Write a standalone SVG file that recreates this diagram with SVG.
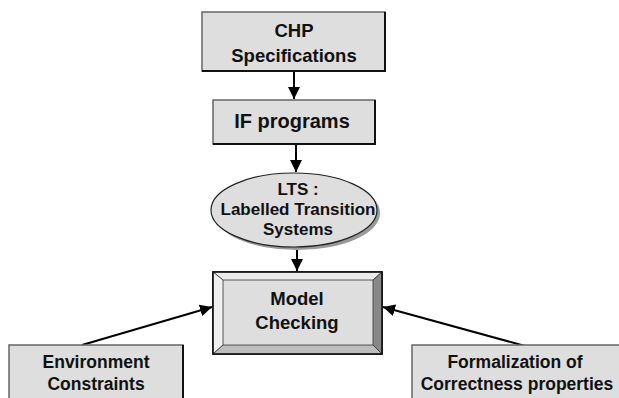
<svg xmlns="http://www.w3.org/2000/svg" width="619" height="398" viewBox="0 0 619 398">
<defs>
<marker id="ah" viewBox="0 0 10 10" refX="10" refY="5" markerWidth="6" markerHeight="6" orient="auto" markerUnits="strokeWidth">
<path d="M0,0 L10,5 L0,10 z" fill="#000"/>
</marker>
</defs>
<style>
.box{fill:#dedede;stroke:#666;stroke-width:1.5}
.sh{fill:none;stroke:#111;stroke-width:2}
.t{font-family:"Liberation Sans",Arial,sans-serif;font-weight:bold;fill:#111;text-anchor:middle}
.c{stroke:#000;stroke-width:2;fill:none;marker-end:url(#ah)}
</style>
<rect width="619" height="398" fill="#fff"/>
<g id="connectors">
<line class="c" x1="294" y1="71" x2="294" y2="99"/>
<line class="c" x1="296" y1="145" x2="296" y2="172"/>
<line class="c" x1="297" y1="247" x2="297" y2="271"/>
<line class="c" x1="82" y1="345" x2="212" y2="307"/>
<line class="c" x1="525" y1="346" x2="383" y2="307"/>
</g>
<g id="chp">
<rect class="box" x="202" y="12" width="183" height="59"/>
<path class="sh" d="M385,12 V71 H202"/>
<text class="t" x="294" y="37" font-size="18.5">CHP</text>
<text class="t" x="294" y="62" font-size="18.5">Specifications</text>
</g>
<g id="if">
<rect class="box" x="213" y="100" width="162" height="44"/>
<path class="sh" d="M375,100 V144 H213" stroke="#555"/>
<text class="t" x="292" y="128" font-size="20">IF programs</text>
</g>
<g id="lts">
<ellipse cx="297" cy="213" rx="83" ry="37" fill="#999"/>
<ellipse cx="294" cy="210" rx="83" ry="37" fill="#dedede" stroke="#222" stroke-width="1.2"/>
<text class="t" x="298" y="195" font-size="17">LTS :</text>
<text class="t" x="298" y="215" font-size="17">Labelled Transition</text>
<text class="t" x="298" y="235" font-size="17">Systems</text>
</g>
<g id="mc">
<rect x="213" y="272" width="169" height="82" fill="#dedede" stroke="#111" stroke-width="1.5"/>
<polygon points="213,272 382,272 373,280 223,280" fill="#ebebeb" stroke="#333" stroke-width="0.8"/>
<polygon points="213,272 223,280 223,345 213,354" fill="#f0f0f0" stroke="#333" stroke-width="0.8"/>
<polygon points="382,272 382,354 373,345 373,280" fill="#888" stroke="#333" stroke-width="0.8"/>
<polygon points="213,354 223,345 373,345 382,354" fill="#bdbdbd" stroke="#333" stroke-width="0.8"/>
<rect x="213" y="272" width="169" height="82" fill="none" stroke="#111" stroke-width="1.5"/>
<text class="t" x="297" y="305" font-size="18.5">Model</text>
<text class="t" x="297" y="329" font-size="18.5">Checking</text>
</g>
<g id="env">
<rect class="box" x="9" y="345" width="174" height="60"/>
<path class="sh" d="M183,345 V400" stroke="#555"/>
<text class="t" x="96" y="368" font-size="17.5">Environment</text>
<text class="t" x="96" y="390" font-size="17.5">Constraints</text>
</g>
<g id="form">
<rect class="box" x="412" y="345" width="212" height="60"/>
<text class="t" x="515" y="368" font-size="17.5">Formalization of</text>
<text class="t" x="517" y="390" font-size="17.5">Correctness properties</text>
</g>
</svg>
